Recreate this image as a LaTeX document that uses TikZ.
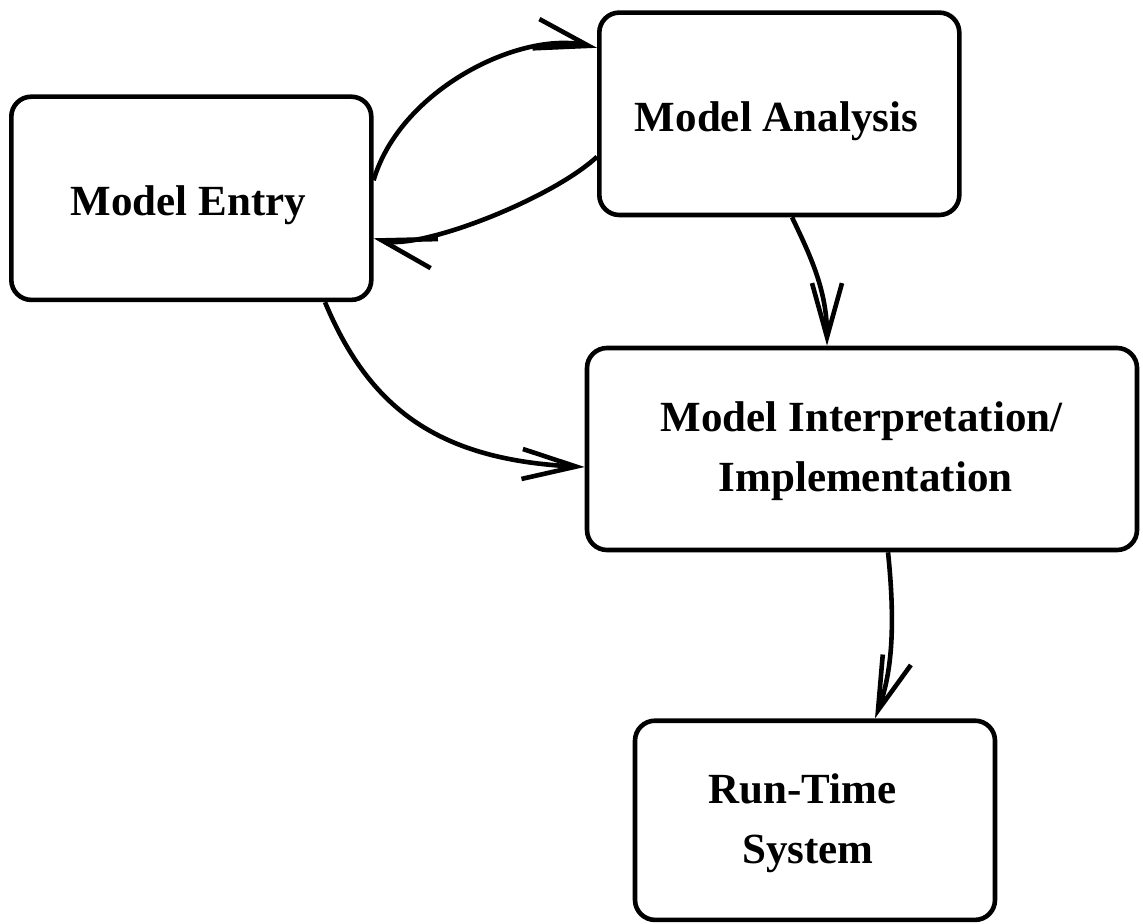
\documentclass[tikz,border=0pt]{standalone}
\usepackage{fontspec}
\setmainfont{Liberation Serif}
\usetikzlibrary{arrows.meta}
\begin{document}
\begin{tikzpicture}[x=0.5pt, y=-0.5pt,
  stage/.style={draw, line width=2.3pt, rounded corners=10pt, inner sep=0pt},
  caption/.style={anchor=base, inner sep=0pt, font=\fontsize{21.5}{30}\selectfont\bfseries},
  flow/.style={line width=2.3pt, -{Straight Barb[length=27pt, width=15pt, line width=2.3pt]}}]
  \useasboundingbox (0,0) rectangle (1143,924);

  % stages
  \node[stage, minimum width=180pt, minimum height=101.6pt] (entry) at (191.3,198.3) {};
  \node[stage, minimum width=180pt, minimum height=101.2pt] (analysis) at (779.3,113.8) {};
  \node[stage, minimum width=275pt, minimum height=101pt] (interp) at (862,449) {};
  \node[stage, minimum width=180pt, minimum height=99.6pt] (runtime) at (815,820.3) {};

  % stage names
  \node[caption] (entrytxt) at (188.5,216) {Model Entry};
  \node[caption] (analysistxt) at (776.5,131.7) {Model Analysis};
  \node[caption] (interptxta) at (861.5,431.7) {Model Interpretation/};
  \node[caption] (interptxtb) at (865.5,491.7) {Implementation};
  \node[caption] (runtimetxta) at (802.5,803.3) {Run-Time};
  \node[caption] (runtimetxtb) at (808,863.3) {System};

  % flows between stages
  \draw[flow] ([shift={(0,-18)}]entry.east) .. controls (400,90) and (520,30) .. ([shift={(0,-66)}]analysis.west);
  \draw[flow] ([shift={(0,43)}]analysis.west) .. controls (550,200) and (420,250) .. ([shift={(0,40)}]entry.east);
  \draw[flow] ([shift={(12.7,0)}]analysis.south) .. controls (810,255) and (827,290) .. ([shift={(-35,0)}]interp.north);
  \draw[flow] ([shift={(133.7,0)}]entry.south) .. controls (370,410) and (440,460) .. ([shift={(0,18)}]interp.west);
  \draw[flow] ([shift={(26,0)}]interp.south) .. controls (895,620) and (893,670) .. ([shift={(60,0)}]runtime.north);
\end{tikzpicture}
\end{document}
